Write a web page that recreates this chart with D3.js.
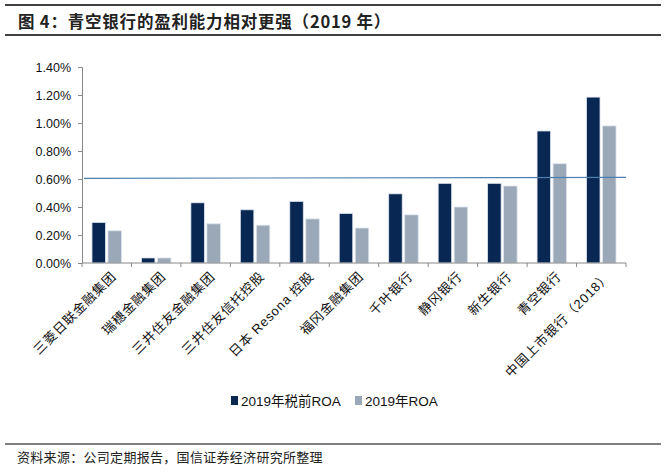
<!DOCTYPE html>
<html>
<head>
<meta charset="utf-8">
<script src="https://cdn.jsdelivr.net/npm/d3@7"></script>
<style>
    body { margin: 0; background: #fff; }
    svg text { font-family: Arial, "Liberation Sans", "Noto Sans CJK SC", sans-serif; }
</style>
</head>
<body>
<svg id="chart" width="666" height="472"></svg>
<script>
// values (ROA, %)
const banks = ["三菱日联金融集团", "瑞穗金融集团", "三井住友金融集团", "三井住友信托控股", "日本 Resona 控股",
    "福冈金融集团", "千叶银行", "静冈银行", "新生银行", "青空银行", "中国上市银行（2018）"];
const roaPreTax = [0.29, 0.036, 0.43, 0.38, 0.44, 0.354, 0.494, 0.569, 0.569, 0.943, 1.185];
const roa = [0.23, 0.036, 0.28, 0.27, 0.315, 0.25, 0.344, 0.40, 0.55, 0.709, 0.979];
const seriesNames = ["2019年税前ROA", "2019年ROA"];
const yTicks = [0, 0.2, 0.4, 0.6, 0.8, 1.0, 1.2, 1.4];
const avgLine = [0.605, 0.612];

const colors = ["#082752", "#9aa8b7"];

let svg = d3.select("#chart"),
    margin = {top: 67, left: 82},
    width = 544,
    height = 196,
    g = svg.append("g").attr("transform", "translate(" + margin.left + "," + margin.top + ")");

// title + rules
svg.append("line").attr("x1", 5).attr("x2", 661).attr("y1", 5).attr("y2", 5)
    .attr("stroke", "#000").attr("stroke-width", 1.3);
svg.append("line").attr("x1", 5).attr("x2", 661).attr("y1", 35).attr("y2", 35)
    .attr("stroke", "#000").attr("stroke-width", 1.3);
svg.append("text").attr("x", 18).attr("y", 27.5)
    .style("font-family", "'Noto Sans CJK SC', sans-serif")
    .style("font-size", "16.5px").style("font-weight", "bold").style("letter-spacing", "0.8px")
    .attr("fill", "#222")
    .text("图 4：青空银行的盈利能力相对更强（2019 年）");

let x = d3.scaleBand().domain(banks).range([0, width]);
let y = d3.scaleLinear().domain([0, 1.4]).range([height, 0]);

// y axis
let yAxis = g.append("g")
    .call(d3.axisLeft(y).tickValues(yTicks).tickSize(4).tickFormat(d => d.toFixed(2) + "%"));
yAxis.select(".domain").attr("stroke", "#888");
yAxis.selectAll(".tick line").attr("stroke", "#888");
yAxis.selectAll(".tick text").attr("x", -11).style("font-size", "12.5px").attr("fill", "#111");

// bars
let sets = [roaPreTax, roa];
let barW = 13.5, gap = 2.5;
sets.forEach(function (vals, si) {
    g.selectAll(".bar" + si)
        .data(vals)
        .enter().append("rect")
        .attr("class", "bar" + si)
        .attr("x", function (d, i) {
            return x(banks[i]) + x.bandwidth() / 2 - barW - gap / 2 + si * (barW + gap);
        })
        .attr("y", d => y(d))
        .attr("width", barW)
        .attr("height", d => height - y(d))
        .attr("fill", colors[si])
        .attr("stroke", "#dde4ee")
        .attr("stroke-width", 0.8);
});

// x axis (ticks at category boundaries)
let bounds = banks.map(b => x(b)).concat([width]);
g.append("line").attr("x1", 0).attr("x2", width).attr("y1", height).attr("y2", height)
    .attr("stroke", "#888");
g.selectAll(".xtick")
    .data(bounds)
    .enter().append("line")
    .attr("class", "xtick")
    .attr("x1", d => d).attr("x2", d => d)
    .attr("y1", height).attr("y2", height + 4)
    .attr("stroke", "#888");

g.selectAll(".xlab")
    .data(banks)
    .enter().append("text")
    .attr("class", "xlab")
    .attr("transform", d => "translate(" + (x(d) + x.bandwidth() / 2 + 7) + "," + (height + 11) + ") rotate(-45)")
    .attr("text-anchor", "end")
    .attr("dy", "0.35em")
    .style("font-size", "13px")
    .style("letter-spacing", "0.8px")
    .attr("fill", "#111")
    .text(d => d);

// reference line
g.append("line")
    .attr("x1", 2).attr("x2", width)
    .attr("y1", y(avgLine[0])).attr("y2", y(avgLine[1]))
    .attr("stroke", "#4f7fae").attr("stroke-width", 1.2);

// legend
let legend = svg.append("g").attr("transform", "translate(231,396)");
seriesNames.forEach(function (name, i) {
    let lx = i * 124;
    legend.append("rect").attr("x", lx).attr("y", 0).attr("width", 7).attr("height", 9).attr("fill", colors[i]);
    legend.append("text").attr("x", lx + 10).attr("y", 9.5)
        .style("font-size", "13.5px").attr("fill", "#111").text(name);
});

// footer
svg.append("line").attr("x1", 5).attr("x2", 661).attr("y1", 444).attr("y2", 444)
    .attr("stroke", "#000").attr("stroke-width", 1);
svg.append("text").attr("x", 17).attr("y", 461.5)
    .style("font-family", "'Noto Sans CJK SC', sans-serif")
    .style("font-size", "13px").style("letter-spacing", "0.3px").attr("fill", "#222")
    .text("资料来源：公司定期报告，国信证券经济研究所整理");
</script>
</body>
</html>
